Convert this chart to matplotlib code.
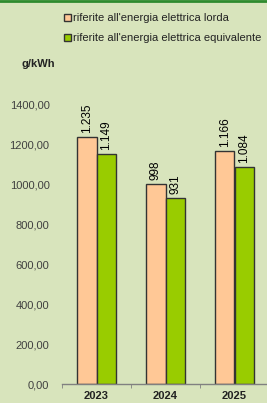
import numpy as np
import matplotlib.pyplot as plt
from matplotlib.lines import Line2D
from matplotlib.patches import Patch

anni = ["2023", "2024", "2025"]
lorda = [1235, 998, 1166]
equivalente = [1149, 931, 1084]
etichette_lorda = ["1.235", "998", "1.166"]
etichette_equiv = ["1.149", "931", "1.084"]
yticks = [0, 200, 400, 600, 800, 1000, 1200, 1400]

sfondo = "#d8e4bc"
c_lorda = "#ffc896"
c_equiv = "#99cc00"

plt.rcParams['font.family'] = ['Liberation Sans', 'DejaVu Sans']

fig = plt.figure(figsize=(2.67, 4.03), dpi=100, facecolor=sfondo)
ax = fig.add_axes([62 / 267, 19 / 403, 207 / 267, 300 / 403])
ax.set_facecolor(sfondo)

x = np.arange(len(anni))
w = 0.28
b1 = ax.bar(x - w / 2, lorda, w, color=c_lorda, edgecolor="#333333", linewidth=1)
b2 = ax.bar(x + w / 2, equivalente, w, color=c_equiv, edgecolor="#333333", linewidth=1)

for barre, etichette in [(b1, etichette_lorda), (b2, etichette_equiv)]:
    for rect, lab in zip(barre, etichette):
        ax.annotate(lab, (rect.get_x() + rect.get_width() / 2, rect.get_height()),
                    xytext=(0, 3), textcoords="offset points", rotation=90,
                    ha="center", va="bottom", fontsize=8.5, color="black")

ax.set_xlim(-0.5, 2.5)
ax.set_ylim(0, 1500)
ax.set_yticks(yticks)
ax.set_yticklabels([f"{v:.2f}".replace(".", ",") for v in yticks],
                   fontsize=8, color="#404040")
ax.tick_params(axis="y", length=0, pad=9)

ax.set_xticks(x)
ax.set_xticklabels(anni, fontsize=8, fontweight="bold", color="#222222")
ax.set_xticks([-0.5, 0.5, 1.5, 2.5], minor=True)
ax.tick_params(axis="x", which="major", length=0, pad=5)
ax.tick_params(axis="x", which="minor", length=3, color="#808080", direction="out")

for s in ["top", "right", "left"]:
    ax.spines[s].set_visible(False)
ax.spines["bottom"].set_color("#808080")
ax.spines["bottom"].set_linewidth(1)

fig.text(21 / 267, 1 - 64 / 403, "g/kWh", fontsize=8, fontweight="bold",
         color="#222222", va="center")

handles = [Patch(facecolor=c_lorda, edgecolor="#333333", linewidth=1),
           Patch(facecolor=c_equiv, edgecolor="#333333", linewidth=1)]
fig.legend(handles, ["riferite all'energia elettrica lorda",
                     "riferite all'energia elettrica equivalente"],
           loc="upper left", bbox_to_anchor=(60 / 267, 1 - 9 / 403),
           frameon=False, fontsize=8, handlelength=0.6, handleheight=0.6,
           handletextpad=0.2, labelspacing=0.9, borderaxespad=0,
           labelcolor="#222222")

fig.add_artist(Line2D([0, 1], [1 - 1 / 403, 1 - 1 / 403], color="#2e8b2e",
                      linewidth=2, transform=fig.transFigure))

fig.savefig("out.png", dpi=100, facecolor=sfondo)
